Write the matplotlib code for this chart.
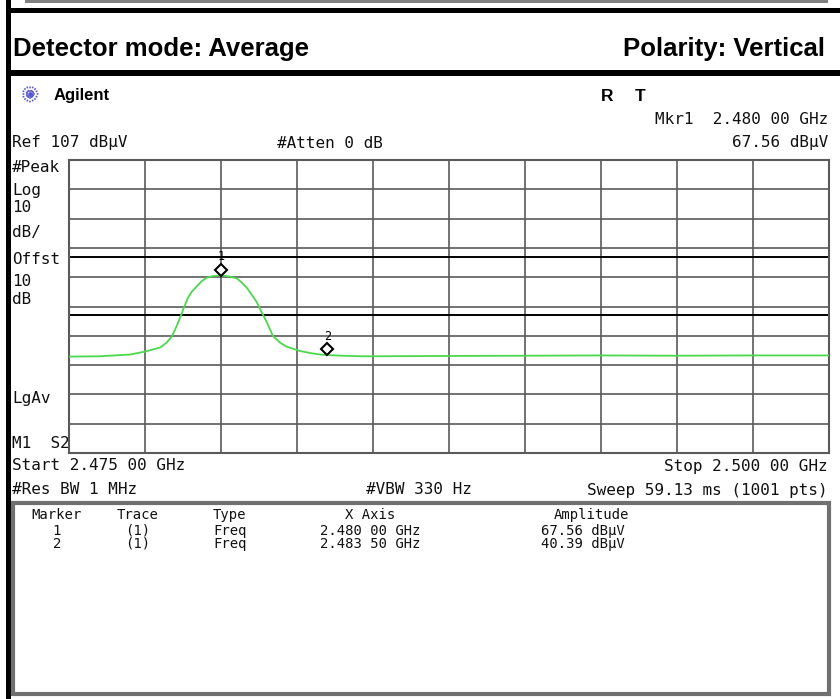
import numpy as np
import matplotlib
matplotlib.use("Agg")
import matplotlib.pyplot as plt
from matplotlib.transforms import offset_copy

# ---------------- data ----------------
start_ghz = 2.475
stop_ghz = 2.500
ref_level = 107
db_per_div = 10
limit_lines = [74, 54]

trace_freq = [2.4750, 2.4760, 2.4770, 2.4775, 2.4780, 2.47820, 2.47838, 2.47852,
              2.47865, 2.47878, 2.47891, 2.47905, 2.4792, 2.47937, 2.47953,
              2.47975, 2.4800, 2.48025, 2.48052, 2.48068, 2.48085, 2.48100,
              2.48117, 2.48133, 2.4815, 2.48171, 2.48195, 2.48216, 2.4826,
              2.48300, 2.48336, 2.48400, 2.48467, 2.4870, 2.4900, 2.4925,
              2.4950, 2.4975, 2.5000]
trace_level = [39.9, 40.0, 40.6, 41.6, 43.0, 44.6, 46.7, 49.8,
               53.1, 56.6, 59.9, 62.2, 63.8, 65.7, 66.8,
               67.4, 67.56, 67.3, 66.6, 65.2, 63.4, 61.2,
               58.6, 55.2, 51.8, 46.9, 44.6, 43.3, 41.8,
               41.0, 40.5, 40.2, 40.0, 40.1, 40.2, 40.3,
               40.2, 40.3, 40.3]

marker_ids = ["1", "2"]
marker_trace = ["(1)", "(1)"]
marker_type = ["Freq", "Freq"]
marker_freq = [2.48000, 2.48350]
marker_amp = [67.56, 40.39]

left_labels = ["#Peak", "Log", "10", "dB/", "Offst", "10", "dB", "LgAv", "M1  S2"]
left_label_y = [167, 191, 207, 233, 259, 282, 300, 398, 444]

header_left = "Detector mode: Average"
header_right = "Polarity: Vertical"


def fmt_ghz(v):
    s = f"{v:.5f}"
    return s[:5] + " " + s[5:] + " GHz"


# ---------------- figure ----------------
fig = plt.figure(figsize=(8.4, 6.99), dpi=100)
ax0 = fig.add_axes([0, 0, 1, 1])
ax0.set_xlim(0, 840)
ax0.set_ylim(699, 0)
ax0.axis("off")

# frame pieces
ax0.add_patch(plt.Rectangle((6, 0), 5, 699, color="black", lw=0))
ax0.add_patch(plt.Rectangle((25, 0), 803, 2.5, color="#808080", lw=0))
ax0.add_patch(plt.Rectangle((6, 8), 834, 4.5, color="black", lw=0))
ax0.add_patch(plt.Rectangle((6, 70), 834, 5.5, color="black", lw=0))

ax0.text(13, 56, header_left, fontsize=18.5, fontweight="bold",
         family="Liberation Sans", ha="left", va="baseline")
ax0.text(825, 56, header_right, fontsize=18.5, fontweight="bold",
         family="Liberation Sans", ha="right", va="baseline")

# Agilent logo (starburst)
cx, cy = 30, 94
for ang in np.linspace(0, np.pi, 8, endpoint=False):
    c, s = np.cos(ang), np.sin(ang)
    for sign in (-1, 1):
        ax0.plot([cx + sign * 2.5 * c, cx + sign * 9 * c],
                 [cy + sign * 2.5 * s, cy + sign * 9 * s],
                 color="#5a5ad0", lw=1.1, ls=(0, (1.2, 1.2)))
ax0.plot([cx], [cy], marker="o", markersize=2.5, color="#5a5ad0")
ax0.text(54, 100, "Agilent", fontsize=12, fontweight="bold",
         family="Liberation Sans", ha="left", va="baseline")
ax0.text(607, 101, "R", fontsize=12.5, fontweight="bold",
         family="Liberation Sans", ha="center", va="baseline")
ax0.text(640, 101, "T", fontsize=12.5, fontweight="bold",
         family="Liberation Sans", ha="center", va="baseline")

mono = dict(family="DejaVu Sans Mono", fontsize=11.5, color="#111111")
ax0.text(828, 120, f"Mkr1  {fmt_ghz(marker_freq[0])}", ha="right", va="center", **mono)
ax0.text(12, 143, f"Ref {ref_level} dBµV", ha="left", va="center", **mono)
ax0.text(277, 143, "#Atten 0 dB", ha="left", va="center", **mono)
ax0.text(828, 143, f"{marker_amp[0]:.2f} dBµV", ha="right", va="center", **mono)
for lab, yy in zip(left_labels, left_label_y):
    ax0.text(12, yy, lab, ha="left", va="center", **mono)
ax0.text(12, 466, f"Start {fmt_ghz(start_ghz)}", ha="left", va="center", **mono)
ax0.text(828, 466, f"Stop {fmt_ghz(stop_ghz)}", ha="right", va="center", **mono)
ax0.text(12, 490, "#Res BW 1 MHz", ha="left", va="center", **mono)
ax0.text(366, 490, "#VBW 330 Hz", ha="left", va="center", **mono)
ax0.text(828, 490, "Sweep 59.13 ms (1001 pts)", ha="right", va="center", **mono)

# marker table
ax0.add_patch(plt.Rectangle((13, 503), 816, 191, fill=False,
                            edgecolor="#707070", lw=3))
tab = dict(family="DejaVu Sans Mono", fontsize=10, color="#111111")
ax0.text(57, 515, "Marker", ha="center", va="center", **tab)
ax0.text(138, 515, "Trace", ha="center", va="center", **tab)
ax0.text(213, 515, "Type", ha="left", va="center", **tab)
ax0.text(370, 515, "X Axis", ha="center", va="center", **tab)
ax0.text(591, 515, "Amplitude", ha="center", va="center", **tab)
blk = dict(tab, linespacing=0.9, va="top")
row_top = 524
ax0.text(57, row_top, "\n".join(marker_ids), ha="center", multialignment="center", **blk)
ax0.text(138, row_top, "\n".join(marker_trace), ha="center", multialignment="center", **blk)
ax0.text(213, row_top, "\n".join(marker_type), ha="left", **blk)
ax0.text(420, row_top, "\n".join(fmt_ghz(v) for v in marker_freq),
         ha="right", multialignment="right", **blk)
ax0.text(625, row_top, "\n".join(f"{v:.2f} dBµV" for v in marker_amp),
         ha="right", multialignment="right", **blk)

# ---------------- graticule ----------------
ax = fig.add_axes([69 / 840, (699 - 453) / 699, 760 / 840, 293 / 699])
ax.set_xlim(start_ghz, stop_ghz)
bottom = ref_level - 10 * db_per_div
ax.set_ylim(bottom, ref_level)
ax.set_xticks(np.linspace(start_ghz, stop_ghz, 11))
ax.set_yticks(np.arange(bottom, ref_level + 1, db_per_div))
ax.grid(True, color="#5a5a5a", lw=1.2)
ax.tick_params(length=0, labelbottom=False, labelleft=False)
for sp in ax.spines.values():
    sp.set_color("#5a5a5a")
    sp.set_linewidth(1.5)
ax.set_facecolor("white")
for lv in limit_lines:
    ax.axhline(lv, color="black", lw=1.4, zorder=2)

ax.plot(trace_freq, trace_level, color="#4cd84c", lw=1.3, zorder=3)

diamond_tr = offset_copy(ax.transData, fig=fig, x=0, y=6, units="dots")
label_tr = offset_copy(ax.transData, fig=fig, x=0, y=19, units="dots")
for i in range(len(marker_ids)):
    ax.plot(marker_freq[i], marker_amp[i], marker="D", markersize=6,
            markerfacecolor="white", markeredgecolor="black",
            markeredgewidth=1.5, transform=diamond_tr, zorder=4)
    ax.text(marker_freq[i], marker_amp[i], marker_ids[i], transform=label_tr,
            ha="center", va="center", family="DejaVu Sans Mono",
            fontsize=8.5, zorder=4)

fig.savefig("out.png", dpi=100)
